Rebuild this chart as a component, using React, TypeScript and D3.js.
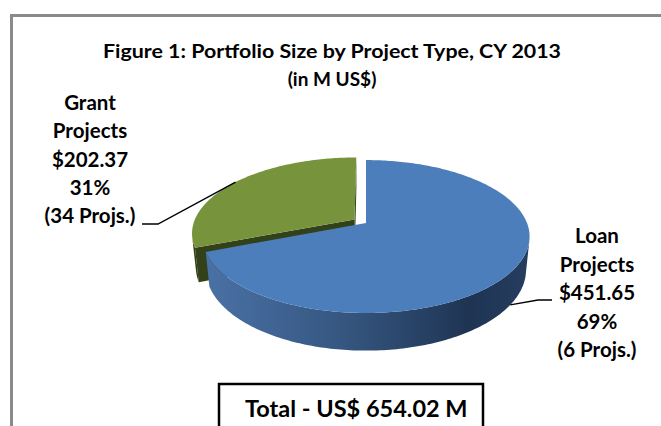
import React from "react";
import * as d3 from "d3";

// chart data
const categories = ["Loan", "Grant"];
const amounts = [451.65, 202.37]; // M US$
const projectCounts = [6, 34];
const titleLines = ["Figure 1: Portfolio Size by Project Type, CY 2013", "(in M US$)"];

const W = 661;
const H = 426;

// 3d pie camera (perspective, Excel-like)
const CX = 366;
const CY = 223;
const R = 161;
const DEPTH = 38;
const SIN = 0.46;
const COS = Math.sqrt(1 - SIN * SIN);
const DIST = 808;
const explode = [0, 14];

const topColors = ["#4C7EBB", "#77933C"];
const sideColors = ["url(#loanSide)", "#2F3B12"];
const radialColors = ["#2B4A72", "#33411A"];

// label layout
const labelLayout = [
  { x: 597, y: 243, step: 28.5, elbow: [538, 300], end: 552, anchorY: -DEPTH },
  { x: 90, y: 110, step: 28.25, elbow: [158, 224], end: 142, anchorY: 0 },
];

const FONT = "Lato, 'Open Sans', sans-serif";

type Pt = [number, number];

const proj = (X: number, Y: number, Z: number): Pt => {
  const depth = Z * COS + Y * SIN;
  const k = DIST / (DIST - depth);
  return [CX + X * k, CY + (Z * SIN - Y * COS) * k];
};

const poly = (pts: Pt[]) => (d3.line()(pts) || "") + "Z";

const App: React.FC = () => {
  const total = d3.sum(amounts);
  const pct = d3.format(".0%");
  const arcs = d3.pie<number>().sort(null).startAngle(0).endAngle(2 * Math.PI)(amounts);
  const cam = [0, DIST * SIN, DIST * COS];

  const slices = arcs.map((a, i) => {
    const mid = (a.startAngle + a.endAngle) / 2;
    const ox = explode[i] * Math.sin(mid);
    const oz = -explode[i] * Math.cos(mid);
    const rim = (ang: number, y: number) => proj(ox + R * Math.sin(ang), y, oz - R * Math.cos(ang));
    const ctr = (y: number) => proj(ox, y, oz);
    const n = Math.ceil((a.endAngle - a.startAngle) / (Math.PI / 180));
    const angs = d3.range(n + 1).map((j) => a.startAngle + ((a.endAngle - a.startAngle) * j) / n);

    // top face
    const top = poly([ctr(0), ...angs.map((g) => rim(g, 0))]);

    // curved outer wall, only the parts facing the camera
    const runs: number[][] = [];
    let cur: number[] = [];
    for (let j = 0; j < n; j++) {
      const am = (angs[j] + angs[j + 1]) / 2;
      const px = ox + R * Math.sin(am);
      const pz = oz - R * Math.cos(am);
      const dot = Math.sin(am) * (cam[0] - px) - Math.cos(am) * (cam[2] - pz);
      if (dot > 0) {
        if (!cur.length) cur.push(angs[j]);
        cur.push(angs[j + 1]);
      } else if (cur.length) {
        runs.push(cur);
        cur = [];
      }
    }
    if (cur.length) runs.push(cur);
    const walls = runs.map((r) =>
      poly([...r.map((g) => rim(g, 0)), ...r.slice().reverse().map((g) => rim(g, -DEPTH))])
    );

    // radial cut faces
    const radials: string[] = [];
    [
      { g: a.startAngle, nx: -Math.cos(a.startAngle), nz: -Math.sin(a.startAngle) },
      { g: a.endAngle, nx: Math.cos(a.endAngle), nz: Math.sin(a.endAngle) },
    ].forEach(({ g, nx, nz }) => {
      const px = ox + (R / 2) * Math.sin(g);
      const pz = oz - (R / 2) * Math.cos(g);
      const dot = nx * (cam[0] - px) + nz * (cam[2] - pz);
      if (dot > 0.5) {
        radials.push(poly([ctr(0), rim(g, 0), rim(g, -DEPTH), ctr(-DEPTH)]));
      }
    });

    const anchor = rim(mid, labelLayout[i].anchorY);
    const zMid = -Math.cos(mid);
    return { i, top, walls, radials, anchor, zMid, value: a.data };
  });

  const order = slices.slice().sort((p, q) => p.zMid - q.zMid);

  return (
    <svg width={W} height={H} style={{ position: "absolute", left: 0, top: 0, background: "#fff" }}>
      <defs>
        <linearGradient id="loanSide" gradientUnits="userSpaceOnUse" x1={205} x2={535} y1={0} y2={0}>
          <stop offset="0" stopColor="#4A71A6" />
          <stop offset="0.45" stopColor="#34547D" />
          <stop offset="0.8" stopColor="#1F3453" />
          <stop offset="1" stopColor="#263E61" />
        </linearGradient>
      </defs>

      <rect x={11.5} y={15.5} width={W + 20} height={H + 20} fill="#fff" stroke="#8A8A8A" strokeWidth={3} />

      <g fontFamily={FONT} fontWeight={700} fill="#000" textAnchor="middle">
        <text x={332} y={58} fontSize={19} textLength={458} lengthAdjust="spacingAndGlyphs">{titleLines[0]}</text>
        <text x={332} y={86} fontSize={19}>{titleLines[1]}</text>
      </g>

      {order.map((s) => (
        <g key={s.i}>
          {s.radials.map((d, k) => (
            <path key={"r" + k} d={d} fill={radialColors[s.i]} />
          ))}
          {s.walls.map((d, k) => (
            <path key={"w" + k} d={d} fill={sideColors[s.i]} />
          ))}
          <path d={s.top} fill={topColors[s.i]} />
        </g>
      ))}

      {slices.map((s) => {
        const L = labelLayout[s.i];
        const lines = [
          categories[s.i],
          "Projects",
          "$" + d3.format(".2f")(s.value),
          pct(s.value / total),
          `(${projectCounts[s.i]} Projs.)`,
        ];
        return (
          <g key={"lab" + s.i}>
            <polyline
              points={[s.anchor, L.elbow, [L.end, L.elbow[1]]].map((p) => p.join(",")).join(" ")}
              fill="none"
              stroke="#000"
              strokeWidth={1.4}
            />
            <g fontFamily={FONT} fontWeight={700} fontSize={20.5} textAnchor="middle" fill="#000">
              {lines.map((t, k) => (
                <text key={k} x={L.x} y={L.y + k * L.step}>{t}</text>
              ))}
            </g>
          </g>
        );
      })}

      <rect x={219} y={384} width={264} height={80} fill="#fff" stroke="#000" strokeWidth={2.5} />
      <text x={245} y={417} fontFamily={FONT} fontWeight={700} fontSize={23.5} fill="#000">
        {"Total - US$ " + d3.format(".2f")(total) + " M"}
      </text>
    </svg>
  );
};

export default App;
